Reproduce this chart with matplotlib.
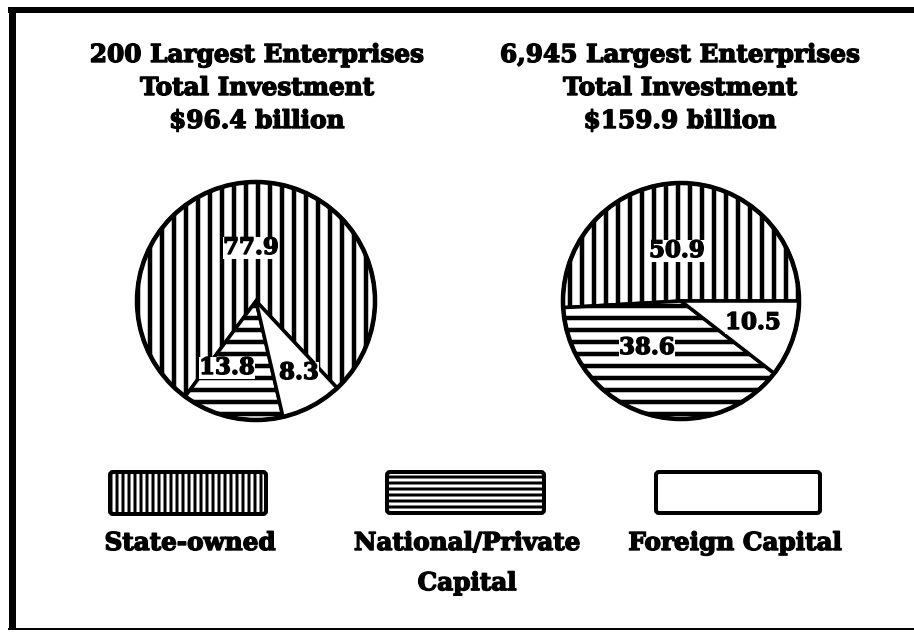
import matplotlib
matplotlib.use('Agg')
import matplotlib.pyplot as plt
import matplotlib.patheffects as pe
from matplotlib.patches import Circle, FancyBboxPatch

# ---- data ----
categories = ["State-owned", "National/Private\nCapital", "Foreign Capital"]
left_values = [77.9, 13.8, 8.3]
right_values = [50.9, 38.6, 10.5]
left_title = ["200 Largest Enterprises", "Total Investment", "$96.4 billion"]
right_title = ["6,945 Largest Enterprises", "Total Investment", "$159.9 billion"]

# ---- styles ----
pie_hatches = ['|', '-', '']
legend_hatches = ['||', '--', '']

W, H = 914, 632
DPI = 72
plt.rcParams['hatch.linewidth'] = 4.5
plt.rcParams['hatch.color'] = 'black'
plt.rcParams['font.family'] = ['DejaVu Serif']
plt.rcParams['font.weight'] = 'bold'

fig = plt.figure(figsize=(W / DPI, H / DPI), dpi=DPI)
fig.patch.set_facecolor('white')

heavy = [pe.Stroke(linewidth=1.4, foreground='black'), pe.Normal()]


def pie_axes(cx, cy, r):
    m = 1.04
    return fig.add_axes([(cx - r * m) / W, (H - cy - r * m) / H, 2 * r * m / W, 2 * r * m / H])


def draw_pie(ax, values, start):
    wedges, _ = ax.pie(values, startangle=start, counterclock=True,
                       colors=['white'] * len(values),
                       wedgeprops=dict(edgecolor='black', linewidth=3.5),
                       radius=1)
    for w, h in zip(wedges, pie_hatches):
        w.set_hatch(h)
        if hasattr(w, 'set_hatch_linewidth'):
            w.set_hatch_linewidth(4.5)
    ax.add_patch(Circle((0, 0), 1, fill=False, edgecolor='black', linewidth=4.5))
    ax.set_xlim(-1.04, 1.04)
    ax.set_ylim(-1.04, 1.04)
    ax.set_aspect('equal')
    ax.axis('off')


axL = pie_axes(256, 301, 119)
draw_pie(axL, left_values, -47)
axR = pie_axes(681, 301, 118)
draw_pie(axR, right_values, 0)

# overlay in pixel coordinates
ov = fig.add_axes([0, 0, 1, 1])
ov.set_xlim(0, W)
ov.set_ylim(H, 0)
ov.axis('off')
ov.patch.set_alpha(0)

renderer = fig.canvas.get_renderer()


def fit(t, target_w):
    bb = t.get_window_extent(renderer)
    t.set_fontsize(t.get_fontsize() * target_w / bb.width)
    return t.get_fontsize()


# border
ov.plot([12, 12], [7, 629], color='black', lw=7, solid_capstyle='butt')
ov.plot([8, W], [10, 10], color='black', lw=6, solid_capstyle='butt')
ov.plot([8, W], [629, 629], color='black', lw=2, solid_capstyle='butt')

# titles
probe = ov.text(0, 0, left_title[0], fontsize=20, fontweight='bold')
tsize = fit(probe, 335)
probe.remove()
for i, (lt, rt) in enumerate(zip(left_title, right_title)):
    y = 55 + i * 33
    ov.text(257, y, lt, ha='center', va='center', fontsize=tsize, fontweight='bold',
            path_effects=heavy)
    ov.text(680, y, rt, ha='center', va='center', fontsize=tsize, fontweight='bold',
            path_effects=heavy)

# pie value labels
probe = ov.text(0, 0, "77.9", fontsize=20, fontweight='bold')
psize = fit(probe, 56)
probe.remove()
left_pos = [(251, 248), (227, 368), (299, 373)]
right_pos = [(677, 251), (647, 348), (753, 323)]
for vals, poss in ((left_values, left_pos), (right_values, right_pos)):
    for v, (x, y) in zip(vals, poss):
        ov.text(x, y, f"{v:.1f}", ha='center', va='center', fontsize=psize,
                fontweight='bold', zorder=5, path_effects=heavy,
                bbox=dict(facecolor='white', edgecolor='none', pad=0.3))

# legend
boxes = [(110, 472, 156, 42), (387, 472, 157, 41), (656, 472, 164, 41)]
label_x = [190, 467, 735]
probe = ov.text(0, 0, "State-owned", fontsize=20, fontweight='bold')
lsize = fit(probe, 172)
probe.remove()
for (x, y, w, h), hat, lab, lx in zip(boxes, legend_hatches, categories, label_x):
    p = FancyBboxPatch((x, y), w, h, boxstyle='round,pad=0,rounding_size=3',
                       facecolor='white', edgecolor='black', linewidth=4, hatch=hat)
    if hasattr(p, 'set_hatch_linewidth'):
        p.set_hatch_linewidth(3)
    ov.add_patch(p)
    ov.text(lx, 531, lab, ha='center', va='top', fontsize=lsize, fontweight='bold',
            linespacing=1.85, path_effects=heavy)

fig.savefig('out.png', dpi=DPI, facecolor='white')
